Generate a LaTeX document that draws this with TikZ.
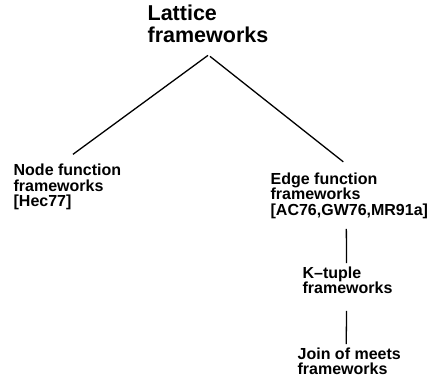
\documentclass[tikz,border=0pt]{standalone}
\usepackage{fontspec}
\setmainfont{Liberation Sans}

\begin{document}
\begin{tikzpicture}[
      x=1pt, y=-1pt,
      fw/.style={align=left, inner sep=0, anchor=base west,
        font=\bfseries\fontsize{16}{15.7}\selectfont},
      big/.style={fw, font=\bfseries\fontsize{21.5}{21.5}\selectfont},
      line width=1.3pt,
    ]
      \useasboundingbox (0, 0) rectangle (429, 382);
      \node[big] (lattice) at (147, 42.5) {Lattice\\frameworks};
      \node[fw] (nodefn) at (13, 207) {Node function\\frameworks\\{[Hec77]}};
      \node[fw] (edgefn) at (270, 215.5) {Edge function\\frameworks\\{[AC76,GW76,MR91a]}};
      \node[fw] (ktuple) at (302, 294) {K--tuple\\frameworks};
      \node[fw] (joinmeets) at (297, 375) {Join of meets\\frameworks};
      \draw ([yshift=-12pt]lattice.south) -- ([xshift=5.5pt, yshift=9pt]nodefn.north);
      \draw ([xshift=2pt, yshift=-13pt]lattice.south) -- ([xshift=-6pt, yshift=10pt]edgefn.north);
      \draw ([xshift=-3pt, yshift=-9.5pt]edgefn.south) -- ([xshift=-1pt, yshift=3pt]ktuple.north);
      \draw ([xshift=-1pt, yshift=-16pt]ktuple.south) -- ([xshift=-3pt, yshift=3pt]joinmeets.north);
    \end{tikzpicture}
\end{document}
